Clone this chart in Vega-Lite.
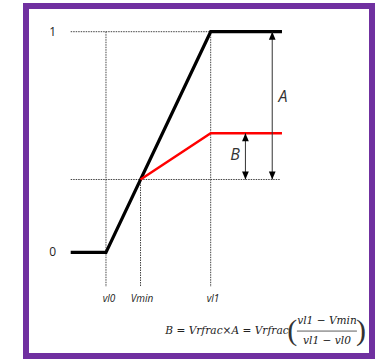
{
  "$schema": "https://vega.github.io/schema/vega-lite/v6.json",
  "width": 346,
  "height": 350,
  "autosize": {"type": "none"},
  "padding": {"left": 26, "top": 6, "right": 13, "bottom": 8},
  "background": "white",
  "config": {
    "view": {"stroke": "#7030a0", "strokeWidth": 6, "fill": "white"}
  },
  "encoding": {
    "x": {"field": "x", "type": "quantitative", "axis": null,
          "scale": {"domain": [-0.764, 2.541], "nice": false, "zero": false}},
    "y": {"field": "y", "type": "quantitative", "axis": null,
          "scale": {"domain": [-0.47, 1.1165], "nice": false, "zero": false}}
  },
  "layer": [
    {
      "description": "dotted guide lines at vl0, Vmin, vl1 and at the 1 and Vmin levels",
      "data": {"values": [
        {"x": -0.337, "x2": 1.681, "y": 1, "y2": 1},
        {"x": -0.337, "x2": 1.66, "y": 0.33, "y2": 0.33},
        {"x": 0, "x2": 0, "y": 1, "y2": -0.157},
        {"x": 0.33, "x2": 0.33, "y": 0.33, "y2": -0.157},
        {"x": 1, "x2": 1, "y": 1, "y2": -0.157}
      ]},
      "mark": {"type": "rule", "color": "#444444", "strokeWidth": 1, "strokeDash": [1.5, 1]},
      "encoding": {"x2": {"field": "x2"}, "y2": {"field": "y2"}}
    },
    {
      "description": "full-scale response",
      "data": {"values": [
        {"x": -0.337, "y": 0, "k": 0},
        {"x": 0, "y": 0, "k": 1},
        {"x": 1, "y": 1, "k": 2},
        {"x": 1.681, "y": 1, "k": 3}
      ]},
      "mark": {"type": "line", "color": "#000000", "strokeWidth": 3.2, "strokeJoin": "miter"},
      "encoding": {"order": {"field": "k", "type": "quantitative"}}
    },
    {
      "description": "response scaled by Vrfrac",
      "data": {"values": [
        {"x": 0.33, "y": 0.33, "k": 0},
        {"x": 1, "y": 0.54, "k": 1},
        {"x": 1.681, "y": 0.54, "k": 2}
      ]},
      "mark": {"type": "line", "color": "#ff0000", "strokeWidth": 2.4, "strokeJoin": "miter"},
      "encoding": {"order": {"field": "k", "type": "quantitative"}}
    },
    {
      "description": "dimension arrows A and B",
      "data": {"values": [
        {"x": 1.588, "y": 1, "y2": 0.33},
        {"x": 1.332, "y": 0.54, "y2": 0.33}
      ]},
      "mark": {"type": "rule", "color": "#333333", "strokeWidth": 1},
      "encoding": {"y2": {"field": "y2"}}
    },
    {
      "data": {"values": [
        {"x": 1.588, "y": 1},
        {"x": 1.332, "y": 0.54}
      ]},
      "mark": {"type": "point", "shape": "M0,0L0.42,1L-0.42,1Z", "size": 256,
               "filled": true, "color": "#000000", "opacity": 1},
      "encoding": {}
    },
    {
      "data": {"values": [
        {"x": 1.588, "y": 0.33},
        {"x": 1.332, "y": 0.33}
      ]},
      "mark": {"type": "point", "shape": "M0,0L0.42,-1L-0.42,-1Z", "size": 256,
               "filled": true, "color": "#000000", "opacity": 1},
      "encoding": {}
    },
    {
      "description": "level labels",
      "data": {"values": [
        {"x": -0.51, "y": 1, "t": "1"},
        {"x": -0.51, "y": 0, "t": "0"}
      ]},
      "mark": {"type": "text", "font": "Open Sans", "fontSize": 12, "color": "#222222",
               "align": "center", "baseline": "middle"},
      "encoding": {"text": {"field": "t"}}
    },
    {
      "description": "voltage labels",
      "data": {"values": [
        {"x": 0.029, "y": -0.212, "t": "vl0"},
        {"x": 0.344, "y": -0.212, "t": "Vmin"},
        {"x": 1.022, "y": -0.212, "t": "vl1"}
      ]},
      "mark": {"type": "text", "font": "Open Sans", "fontSize": 10, "fontStyle": "italic",
               "color": "#222222", "align": "center", "baseline": "middle"},
      "encoding": {"text": {"field": "t"}}
    },
    {
      "data": {"values": [
        {"x": 1.69, "y": 0.704, "t": "A"},
        {"x": 1.232, "y": 0.441, "t": "B"}
      ]},
      "mark": {"type": "text", "font": "Open Sans", "fontSize": 16, "fontStyle": "italic",
               "color": "#333333", "align": "center", "baseline": "middle"},
      "encoding": {"text": {"field": "t"}}
    },
    {
      "description": "formula: left side",
      "data": {"values": [{"x": 1.745, "y": -0.357, "t": "B = Vrfrac×A = Vrfrac"}]},
      "mark": {"type": "text", "font": "DejaVu Serif", "fontSize": 10.6, "fontStyle": "italic",
               "color": "#222222", "align": "right", "baseline": "middle"},
      "encoding": {"text": {"field": "t"}}
    },
    {
      "description": "formula: parentheses",
      "data": {"values": [
        {"x": 1.78, "y": -0.357, "t": "("},
        {"x": 2.435, "y": -0.357, "t": ")"}
      ]},
      "mark": {"type": "text", "font": "Liberation Serif", "fontSize": 30,
               "color": "#333333", "align": "center", "baseline": "middle"},
      "encoding": {"text": {"field": "t"}}
    },
    {
      "description": "formula: fraction",
      "data": {"values": [
        {"x": 2.111, "y": -0.311, "t": "vl1 − Vmin"},
        {"x": 2.111, "y": -0.401, "t": "vl1 − vl0"}
      ]},
      "mark": {"type": "text", "font": "DejaVu Serif", "fontSize": 10.6, "fontStyle": "italic",
               "color": "#222222", "align": "center", "baseline": "middle"},
      "encoding": {"text": {"field": "t"}}
    },
    {
      "data": {"values": [{"x": 1.824, "x2": 2.397, "y": -0.357}]},
      "mark": {"type": "rule", "color": "#333333", "strokeWidth": 0.8},
      "encoding": {"x2": {"field": "x2"}}
    }
  ]
}
